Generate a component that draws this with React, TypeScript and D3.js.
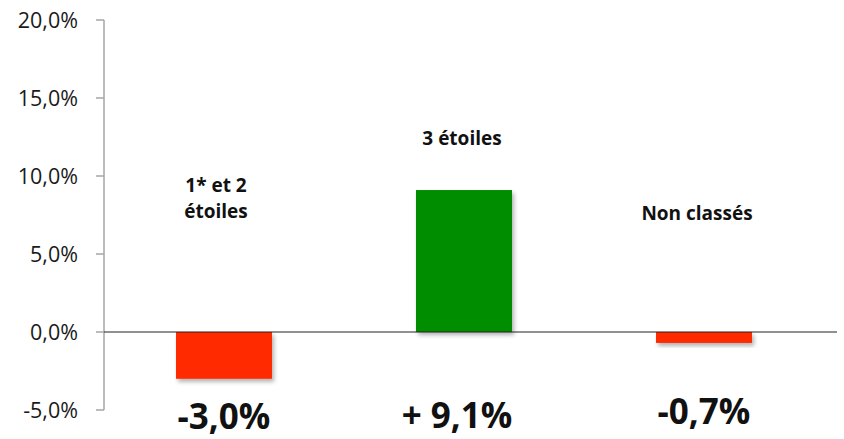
import React, { useEffect, useRef } from "react";
import * as d3 from "d3";

// categories and values (% change)
const categories = ["1* et 2 étoiles", "3 étoiles", "Non classés"];
const values = [-3.0, 9.1, -0.7];
const valueLabels = ["-3,0%", "+ 9,1%", "-0,7%"];
const yTicks = [-5, 0, 5, 10, 15, 20];

// label layout: lines, dx from band centre, baseline y
const catLayout = [
  { lines: ["1* et 2", "étoiles"], dx: -8, y: 192 },
  { lines: ["3 étoiles"], dx: -2, y: 145 },
  { lines: ["Non classés"], dx: -7, y: 220 },
];
const valLayout = [
  { dx: 0, y: 429 },
  { dx: -7, y: 428 },
  { dx: 0, y: 424 },
];

const RED = "#ff2a00";
const GREEN = "#008e00";

export default function App() {
  const svgRef = useRef<SVGSVGElement>(null);

  useEffect(() => {
    if (!svgRef.current) return;
    const svg = d3.select(svgRef.current);
    svg.selectAll("*").remove();

    const font = "'Open Sans', sans-serif";

    const x = d3
      .scaleBand<string>()
      .domain(categories)
      .range([104, 824])
      .paddingInner(0.6)
      .paddingOuter(0.3);
    const y = d3.scaleLinear().domain([-5, 20]).range([410, 20]);

    const defs = svg.append("defs");
    const f = defs
      .append("filter")
      .attr("id", "shadow")
      .attr("x", "-20%")
      .attr("y", "-20%")
      .attr("width", "140%")
      .attr("height", "160%");
    f.append("feDropShadow")
      .attr("dx", 2)
      .attr("dy", 3)
      .attr("stdDeviation", 2)
      .attr("flood-color", "#000")
      .attr("flood-opacity", 0.3);

    // y axis
    const axis = svg.append("g");
    axis
      .append("line")
      .attr("x1", 104)
      .attr("x2", 104)
      .attr("y1", y(20))
      .attr("y2", y(-5))
      .attr("stroke", "#a6a6a6")
      .attr("stroke-width", 1.5);
    axis
      .selectAll(".tick")
      .data(yTicks)
      .enter()
      .append("line")
      .attr("x1", 96)
      .attr("x2", 104)
      .attr("y1", (d) => y(d))
      .attr("y2", (d) => y(d))
      .attr("stroke", "#a6a6a6")
      .attr("stroke-width", 1.5);
    axis
      .selectAll(".lbl")
      .data(yTicks)
      .enter()
      .append("text")
      .attr("x", 78)
      .attr("y", (d) => y(d))
      .attr("dy", "0.36em")
      .attr("text-anchor", "end")
      .attr("font-family", font)
      .attr("font-size", 21.5)
      .attr("fill", "#1a1a1a")
      .text((d) => d.toFixed(1).replace(".", ",") + "%");

    // bars
    svg
      .append("g")
      .selectAll("rect")
      .data(values)
      .enter()
      .append("rect")
      .attr("x", (_, i) => x(categories[i])!)
      .attr("width", x.bandwidth())
      .attr("y", (d) => y(Math.max(0, d)))
      .attr("height", (d) => Math.abs(y(d) - y(0)))
      .attr("fill", (d) => (d < 0 ? RED : GREEN))
      .attr("filter", "url(#shadow)");

    // zero line
    svg
      .append("line")
      .attr("x1", 104)
      .attr("x2", 837)
      .attr("y1", y(0))
      .attr("y2", y(0))
      .attr("stroke", "#222")
      .attr("stroke-width", 1);

    // category labels
    categories.forEach((c, i) => {
      const cx = x(c)! + x.bandwidth() / 2 + catLayout[i].dx;
      catLayout[i].lines.forEach((line, j) => {
        svg
          .append("text")
          .attr("x", cx)
          .attr("y", catLayout[i].y + j * 26)
          .attr("text-anchor", "middle")
          .attr("font-family", font)
          .attr("font-weight", "bold")
          .attr("font-size", 19)
          .attr("fill", "#111")
          .text(line);
      });
    });

    // value labels
    categories.forEach((c, i) => {
      svg
        .append("text")
        .attr("x", x(c)! + x.bandwidth() / 2 + valLayout[i].dx)
        .attr("y", valLayout[i].y)
        .attr("text-anchor", "middle")
        .attr("font-family", font)
        .attr("font-weight", "bold")
        .attr("font-size", 35)
        .attr("fill", "#111")
        .text(valueLabels[i]);
    });
  }, []);

  return (
    <svg
      ref={svgRef}
      width={844}
      height={439}
      style={{ position: "absolute", left: 0, top: 0, background: "#fff" }}
    />
  );
}
